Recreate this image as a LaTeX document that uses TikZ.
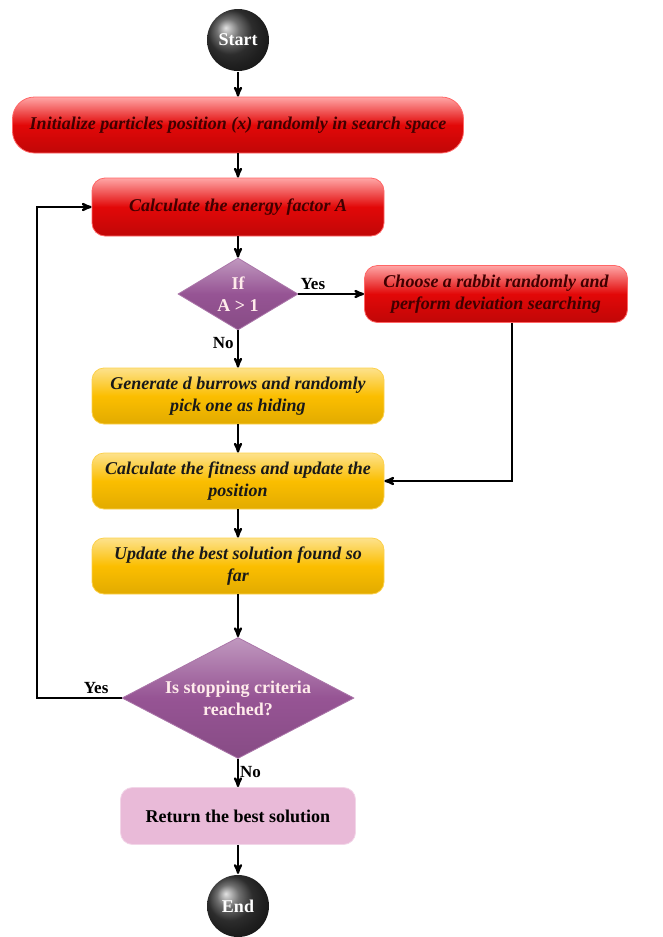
\documentclass[tikz,border=0pt]{standalone}
\usepackage{fontspec}
\setmainfont{Liberation Serif}
\usepackage{tikz}
\usetikzlibrary{arrows,shapes.geometric,shadings}
\definecolor{boxred}{RGB}{226,8,8}
\definecolor{boxgold}{RGB}{251,190,0}
\definecolor{dmdpurple}{RGB}{150,84,148}
\definecolor{retpink}{RGB}{233,186,216}
\tikzset{red box/.style={rectangle,rounded corners=13pt,draw=red!60!white,line width=0.8pt,
		top color=red!35!white,bottom color=boxred!85!black,middle color=boxred,
		text=red!25!black,font=\fontsize{18}{22}\selectfont\bfseries\itshape,align=center,inner sep=0pt},
	gold box/.style={rectangle,rounded corners=12pt,draw=boxgold!70!white,line width=0.8pt,
		top color=boxgold!45!white,bottom color=boxgold!90!black,middle color=boxgold,
		text=black!90,font=\fontsize{18}{22}\selectfont\bfseries\itshape,align=center,
		minimum width=292pt,minimum height=56pt,inner sep=0pt},
	decision/.style={diamond,draw=dmdpurple!80!white,line width=0.8pt,
		top color=dmdpurple!60!white,bottom color=dmdpurple!90!black,middle color=dmdpurple,
		text=white!92!red,font=\fontsize{18}{22}\selectfont\bfseries,align=center,inner sep=0pt},
	terminal/.style={circle,ball color=black!75,text=white,minimum size=62pt,inner sep=0pt,
		font=\fontsize{18}{20}\selectfont\bfseries},
}

\begin{document}
\begin{tikzpicture}[x=1pt,y=-1pt,->,>=stealth',line width=2.2pt,node distance=85pt,
	every node/.style={font=\fontsize{18}{20}\selectfont\bfseries}]
	
	\useasboundingbox (0,0) rectangle (662,937);
	
	\node[terminal] (start) at (238,40) {Start};
	\node[red box,rounded corners=22pt,minimum width=451pt,minimum height=56pt] (init) [below of=start]
		{Initialize particles position (x) randomly in search space};
	\node[red box,minimum width=292pt,minimum height=58pt] (calc) [below of=init,node distance=82pt]
		{Calculate the energy factor A};
	\node[decision,minimum width=120pt,minimum height=72pt,aspect=1.67] (ifa) [below of=calc,node distance=87pt]
		{If\\A > 1};
	\node[red box,minimum width=263pt,minimum height=57pt] (rabbit) [right of=ifa,node distance=258pt]
		{Choose a rabbit randomly and\\perform deviation searching};
	\node[gold box] (burrow) [below of=ifa,node distance=102pt]
		{Generate d burrows and randomly\\pick one as hiding};
	\node[gold box] (fit) [below of=burrow]
		{Calculate the fitness and update the\\position};
	\node[gold box] (best) [below of=fit]
		{Update the best solution found so\\far};
	\node[decision,minimum width=232pt,minimum height=121pt,aspect=1.92] (stop) [below of=best,node distance=132pt]
		{Is stopping criteria\\reached?};
	\node[rectangle,rounded corners=12pt,draw=retpink!60!white,line width=0.8pt,fill=retpink,
		minimum width=235pt,minimum height=57pt,inner sep=0pt] (ret) [below of=stop,node distance=118pt]
		{Return the best solution};
	\node[terminal] (end) [below of=ret,node distance=90pt] {End};
	
	\path[every node/.style={font=\fontsize{17}{20}\selectfont\bfseries}]
	(start) edge (init)
	(init) edge (calc)
	(calc) edge (ifa)
	(ifa) edge node[above,pos=0.22] {Yes} (rabbit)
	(ifa) edge node[left,pos=0.35] {No} (burrow)
	(burrow) edge (fit)
	(fit) edge (best)
	(best) edge (stop)
	(stop) edge node[right,pos=0.45,inner sep=1pt] {No} (ret)
	(ret) edge (end)
	;
	
	\draw ([xshift=16pt]rabbit.south) |- (fit.east);
	\draw (stop.west) -- node[above,pos=0.3,font=\fontsize{17}{20}\selectfont\bfseries] {Yes} ++(-85,0) |- (calc.west);
	
\end{tikzpicture}
\end{document}
